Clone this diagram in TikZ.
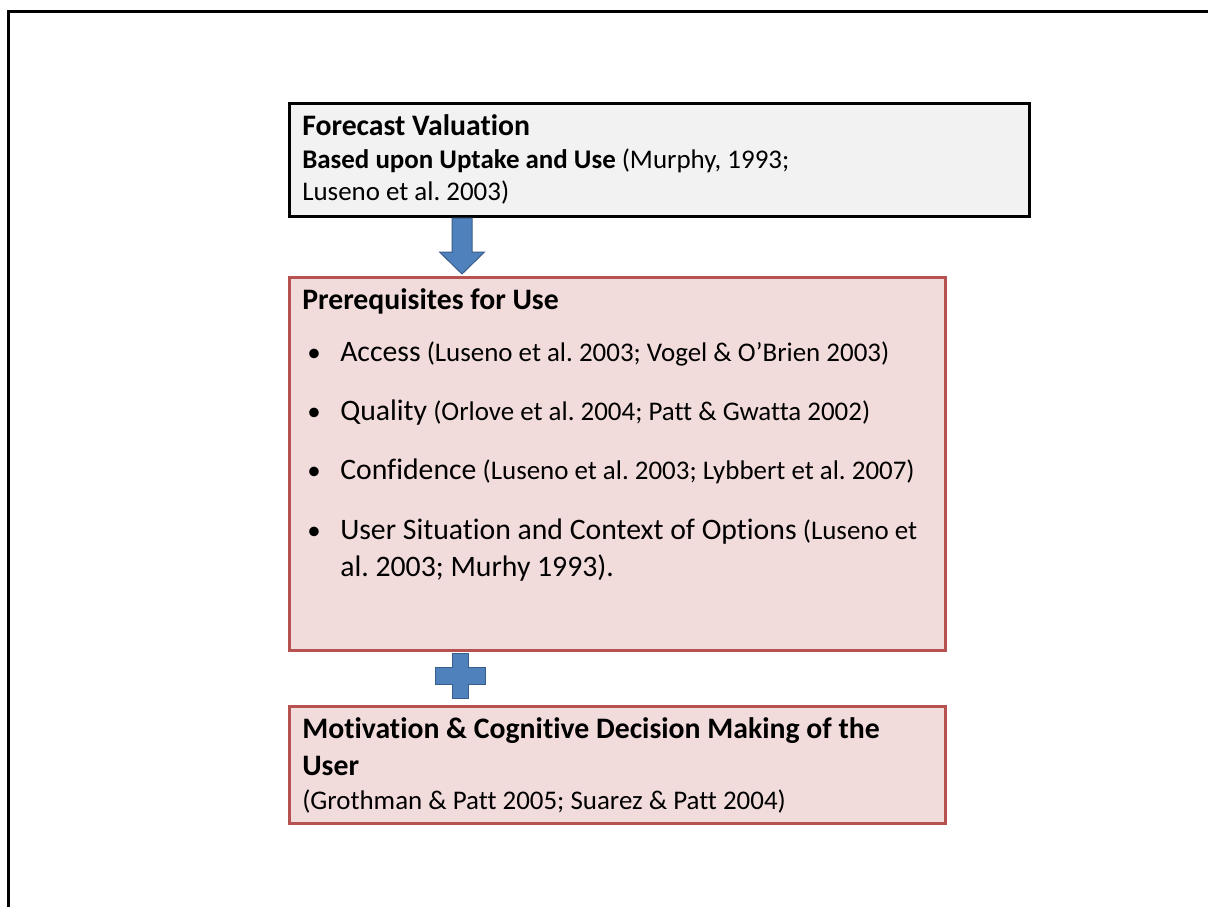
\documentclass[tikz,border=0pt]{standalone}
\usepackage{fontspec}
\setmainfont{Carlito}[Ligatures=NoCommon]
\usetikzlibrary{calc}

\definecolor{boxgray}{HTML}{F2F2F2}
\definecolor{pinkfill}{HTML}{F2DCDB}
\definecolor{redline}{HTML}{B65350}
\definecolor{bluefill}{HTML}{4F81BD}
\definecolor{blueline}{HTML}{385D8A}

\newcommand{\bigtxt}{\fontsize{22.3}{26.8}\selectfont}
\newcommand{\smalltxt}{\fontsize{20.2}{24.2}\selectfont}

\begin{document}
\frenchspacing
\begin{tikzpicture}[x=0.75pt,y=-0.75pt,
  frameline/.style={line width=2.25pt, black},
  greybox/.style={draw=black, fill=boxgray, line width=2.25pt, inner sep=0pt, anchor=north west},
  pinkbox/.style={draw=redline, fill=pinkfill, line width=2.25pt, inner sep=0pt, anchor=north west},
  line/.style={anchor=base west, inner sep=0pt, text=black},
  blockshape/.style={fill=bluefill, draw=blueline, line width=0.75pt}]

\useasboundingbox (0,0) rectangle (1208,907);

% page frame (left and top edges)
\draw[frameline] (8,920) -- (8,11) -- (1220,11);

% boxes
\node[greybox, minimum width=555pt, minimum height=84.75pt] (fv) at (288,102) {};
\node[pinkbox, minimum width=492pt, minimum height=279.75pt] (pr) at (288,276) {};
\node[pinkbox, minimum width=492pt, minimum height=87.75pt] (mo) at (288,705) {};

% box 1 text
\node[line] (fvtitle) at (302,135) {\bigtxt\bfseries Forecast Valuation};
\node[line] (fvl1) at (302,168) {\smalltxt\textbf{Based upon Uptake and Use} (Murphy, 1993;};
\node[line] (fvl2) at (302,200) {\smalltxt Luseno et al. 2003)};

% box 2 text
\node[line] (prtitle) at (302,309) {\bigtxt\bfseries Prerequisites for Use};
\foreach \yy/\nm in {361/b1,420/b2,479/b3,539/b4}
  \node[line] (\nm) at (307,\yy) {\smalltxt •};
\node[line] (i1) at (340,361) {\bigtxt Access\smalltxt{} (Luseno et al. 2003; Vogel \& O’Brien 2003)};
\node[line] (i2) at (340,420) {\bigtxt Quality\smalltxt{} (Orlove et al. 2004; Patt \& Gwatta 2002)};
\node[line] (i3) at (340,479) {\bigtxt Confidence\smalltxt{} (Luseno et al. 2003; Lybbert et al. 2007)};
\node[line] (i4) at (340,539) {\bigtxt User Situation and Context of Options\smalltxt{} (Luseno et};
\node[line] (i4b) at (340,576) {\bigtxt al. 2003; Murhy 1993).};

% box 3 text
\node[line] (motitle) at (302,738) {\bigtxt\bfseries Motivation \& Cognitive Decision Making of the};
\node[line] (motitle2) at (302,775) {\bigtxt\bfseries User};
\node[line] (mocite) at (302,809) {\smalltxt (Grothman \& Patt 2005; Suarez \& Patt 2004)};

% down arrow between box 1 and box 2
\coordinate (axis) at (462,0);
\filldraw[blockshape]
  ($(axis |- fv.south)+(-10,0)$) -- ($(axis |- fv.south)+(10,0)$)
  -- ($(axis |- pr.north)+(10,-24)$) -- ($(axis |- pr.north)+(22.5,-24)$)
  -- ($(axis |- pr.north)+(0,-2)$)
  -- ($(axis |- pr.north)+(-22.5,-24)$) -- ($(axis |- pr.north)+(-10,-24)$) -- cycle;

% plus sign between box 2 and box 3
\coordinate (pcol) at (460,0);
\coordinate (pc) at ($(pcol |- pr.south)+(0,24)$);
\filldraw[blockshape]
  ($(pc)+(-8,-22.5)$) -- ($(pc)+(8,-22.5)$) -- ($(pc)+(8,-8.5)$)
  -- ($(pc)+(25,-8.5)$) -- ($(pc)+(25,8.5)$) -- ($(pc)+(8,8.5)$)
  -- ($(pc)+(8,22.5)$) -- ($(pc)+(-8,22.5)$) -- ($(pc)+(-8,8.5)$)
  -- ($(pc)+(-25,8.5)$) -- ($(pc)+(-25,-8.5)$) -- ($(pc)+(-8,-8.5)$) -- cycle;

\end{tikzpicture}
\end{document}
